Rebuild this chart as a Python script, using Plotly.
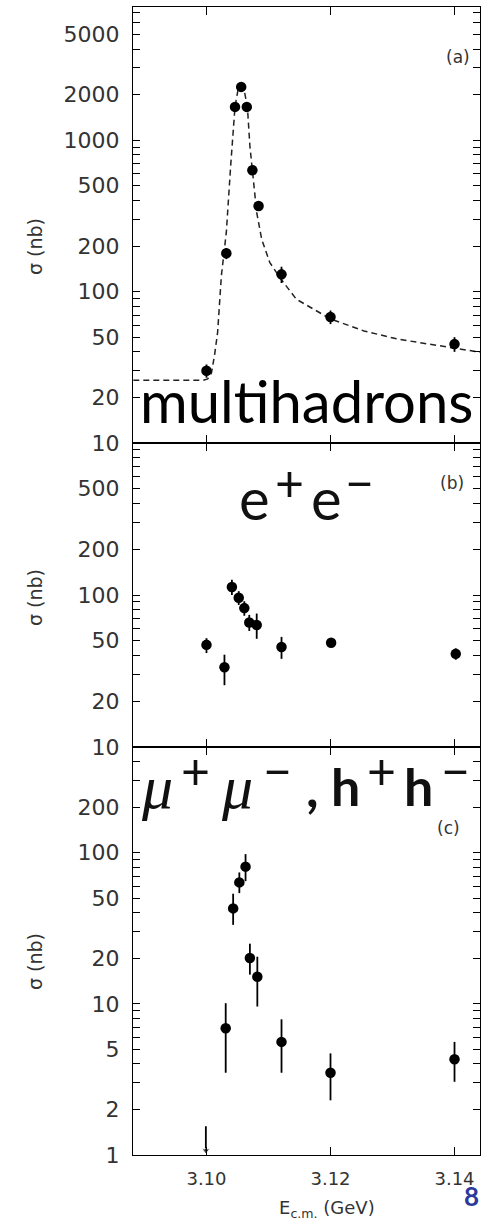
import plotly.graph_objects as go

# ---------------- data ----------------
# panel (a) multihadrons
a_E = [3.1000, 3.1032, 3.1046, 3.1056, 3.1065, 3.1074, 3.1084, 3.1121, 3.1200, 3.1400]
a_sigma = [30, 179, 1660, 2250, 1660, 634, 368, 130, 68, 45]
a_err = [3, 15, 100, 150, 100, 40, 25, 16, 7, 5]

# dashed fit curve in panel (a)
fit_E = [3.0882, 3.0995, 3.1002, 3.1008, 3.1013, 3.1018, 3.1024, 3.1032, 3.1039,
         3.1046, 3.1051, 3.1056, 3.1061, 3.1066, 3.1070, 3.1075, 3.1081, 3.1089,
         3.1102, 3.1120, 3.1145, 3.1200, 3.1254, 3.1308, 3.1362, 3.1442]
fit_sigma = [26, 26, 26.5, 29, 38, 54, 127, 246, 677,
             1660, 2170, 2300, 2115, 1660, 917, 581, 333, 222,
             156, 121, 89, 66, 55, 48.6, 45, 39.7]

# panel (b) e+e-
b_E = [3.1000, 3.1029, 3.1041, 3.1052, 3.1061, 3.1069, 3.1081, 3.1121, 3.1201, 3.1402]
b_sigma = [47, 33.5, 113, 96, 82, 66, 63.5, 45.5, 48.5, 41]
b_err_plus = [5, 7, 13, 10, 9, 8, 12, 7.5, 3, 3.5]
b_err_minus = [5.5, 8, 13, 10, 9, 8, 12, 7.5, 3, 3.5]

# panel (c) mu+mu-, h+h-
c_E = [3.1031, 3.1043, 3.1053, 3.1063, 3.1070, 3.1082, 3.1121, 3.1200, 3.1400]
c_sigma = [6.9, 42.8, 63.6, 80.8, 20.1, 15.1, 5.6, 3.5, 4.3]
c_err_plus = [3.2, 10.7, 10.4, 17, 4.9, 5.4, 2.3, 1.2, 1.3]
c_err_minus = [3.4, 9.5, 9.6, 16, 4.5, 5.5, 2.1, 1.2, 1.25]
c_limit_E = [3.0999, 3.0999]
c_limit = [1.55, 1.07]   # upper limit and arrow tip

x_ticks = [3.10, 3.12, 3.14]
x_ticktext = ["3.10", "3.12", "3.14"]
a_ticks = [10, 20, 50, 100, 200, 500, 1000, 2000, 5000]
b_ticks = [10, 20, 50, 100, 200, 500]
c_ticks = [1, 2, 5, 10, 20, 50, 100, 200]


def all_ticks(decades, labeled):
    vals, txt = [], []
    for d in decades:
        for m in range(1, 10):
            v = m * d
            vals.append(v)
            txt.append(str(v) if v in labeled else "")
    return vals, txt


# ---------------- figure ----------------
fig = go.Figure()

MK = dict(color="black", size=10.5, symbol="circle")
EB = dict(type="data", symmetric=False, color="black", thickness=1.8, width=0)

fig.add_trace(go.Scatter(x=fit_E, y=fit_sigma, mode="lines",
                         line=dict(color="#222", width=1.5, dash="6px,4px"),
                         xaxis="x", yaxis="y", hoverinfo="skip"))
fig.add_trace(go.Scatter(x=a_E, y=a_sigma, mode="markers", marker=MK,
                         error_y=dict(EB, array=a_err, arrayminus=a_err),
                         xaxis="x", yaxis="y"))
fig.add_trace(go.Scatter(x=b_E, y=b_sigma, mode="markers", marker=MK,
                         error_y=dict(EB, array=b_err_plus, arrayminus=b_err_minus),
                         xaxis="x2", yaxis="y2"))
fig.add_trace(go.Scatter(x=c_E, y=c_sigma, mode="markers", marker=MK,
                         error_y=dict(EB, array=c_err_plus, arrayminus=c_err_minus),
                         xaxis="x3", yaxis="y3"))
fig.add_trace(go.Scatter(x=c_limit_E, y=c_limit, mode="lines+markers",
                         line=dict(color="black", width=1.8),
                         marker=dict(color="black", symbol="triangle-down", size=[0, 7]),
                         xaxis="x3", yaxis="y3"))

H = 1148.0
ya = [712 / H, 1.0]
yb = [408 / H, 712 / H]
yc = [0.0, 408 / H]
XR = [3.08815, 3.14411]

tickfont_y = dict(family="DejaVu Sans", size=22, color="#333")
tickfont_x = dict(family="DejaVu Sans", size=18, color="#333")
LW = 1.3


def xax(anchor, labels):
    return dict(domain=[0, 1], anchor=anchor, range=XR, tickmode="array",
                tickvals=x_ticks, ticktext=x_ticktext, ticks="inside", ticklen=8,
                tickwidth=1.3, tickcolor="black", showticklabels=labels,
                showline=True, linecolor="black", linewidth=LW, mirror="allticks",
                showgrid=False, zeroline=False, tickfont=tickfont_x,
                ticklabelstandoff=7)


def yax(anchor, dom, rng, decades, labeled):
    tv, tt = all_ticks(decades, labeled)
    return dict(domain=dom, anchor=anchor, type="log", range=rng, tickmode="array",
                tickvals=tv, ticktext=tt, ticks="inside",
                ticklen=7, tickwidth=1.1, tickcolor="black",
                showline=True, linecolor="black", linewidth=LW, mirror="allticks",
                showgrid=False, zeroline=False, tickfont=tickfont_y,
                ticklabelstandoff=8)


fig.update_layout(
    width=487, height=1222,
    margin=dict(l=133, r=7, t=7, b=67),
    paper_bgcolor="white", plot_bgcolor="white",
    showlegend=False,
    xaxis=xax("y", False),
    xaxis2=xax("y2", False),
    xaxis3=xax("y3", True),
    yaxis=yax("x", ya, [1, 3.88], [10, 100, 1000], a_ticks),
    yaxis2=yax("x2", yb, [1, 3], [10, 100], b_ticks),
    yaxis3=yax("x3", yc, [0, 2.699], [1, 10, 100], c_ticks),
)


def px(xp):
    return (xp - 133) / 347.0


def py(yp):
    return (1155 - yp) / H


def note(text, x, y, size, family="DejaVu Sans", color="#333", angle=0):
    return dict(text=text, x=px(x), y=py(y), xref="paper", yref="paper",
                xanchor="center", yanchor="middle", textangle=angle,
                showarrow=False, font=dict(family=family, size=size, color=color))


ann = []
for yc_px in [247, 598, 962]:
    ann.append(note("σ (nb)", 35, yc_px, 19, angle=-90))
for lab, (xx, yy) in [("(a)", (458, 57)), ("(b)", (452, 483)), ("(c)", (448, 828))]:
    ann.append(note(lab, xx, yy, 17))

INK = "#111"
ann.append(note("multihadrons", 306, 401, 58, family="Lato", color="black"))

# e+ e-  (glyph by glyph, to mimic the large pasted-in lettering)
ann.append(note("e", 254, 497, 58, family="Lato", color=INK))
ann.append(note("+", 289, 482, 50, family="Lato", color=INK))
ann.append(note("e", 326, 497, 58, family="Lato", color=INK))
ann.append(note("−", 359, 482, 50, family="Lato", color=INK))

# mu+ mu- , h+ h-
MU = "<i>μ</i>"
ann.append(note(MU, 157, 787, 62, family="Liberation Serif", color=INK))
ann.append(note("+", 195, 770, 50, family="Lato", color=INK))
ann.append(note(MU, 237, 787, 62, family="Liberation Serif", color=INK))
ann.append(note("−", 277, 770, 50, family="Lato", color=INK))
ann.append(note("<b>,</b>", 312, 786, 54, family="Lato", color=INK))
ann.append(note("<b>h</b>", 345, 786, 52, family="Lato", color=INK))
ann.append(note("+", 381, 770, 50, family="Lato", color=INK))
ann.append(note("<b>h</b>", 418, 786, 52, family="Lato", color=INK))
ann.append(note("−", 455, 770, 50, family="Lato", color=INK))

ann.append(note("E<sub>c.m.</sub> (GeV)", 327, 1209, 18))
ann.append(note("<b>8</b>", 471, 1196, 26, family="Lato", color="#2b3a9c"))
fig.update_layout(annotations=ann)

fig.write_html("out.html")
